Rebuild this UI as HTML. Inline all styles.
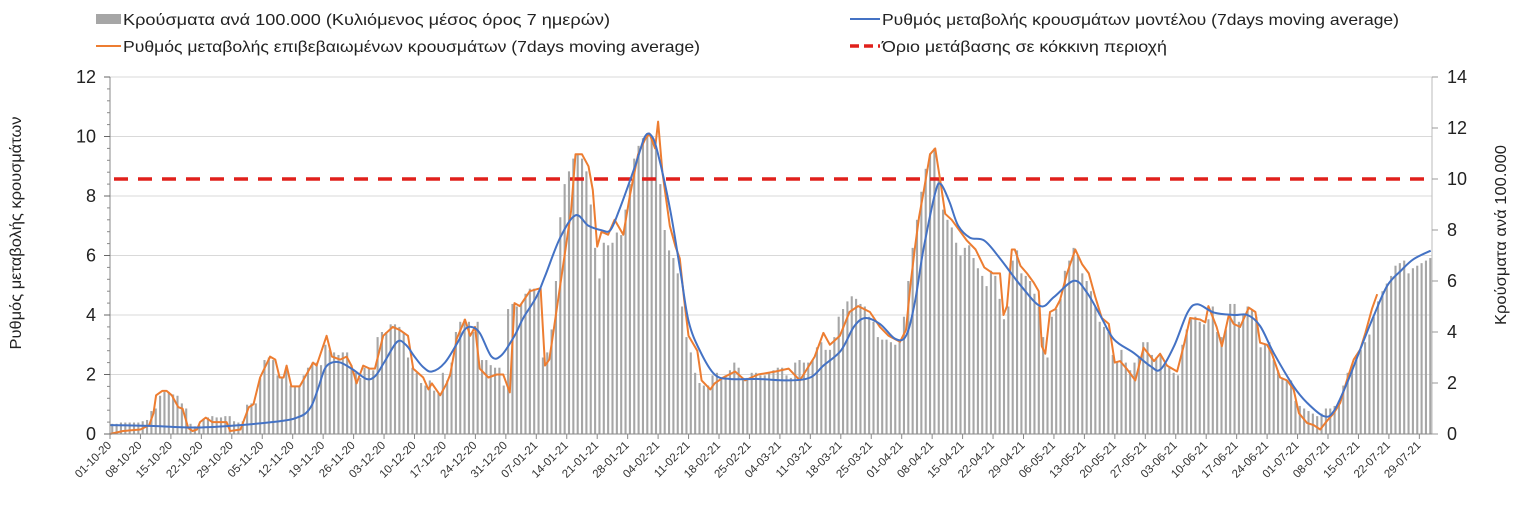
<!DOCTYPE html>
<html><head><meta charset="utf-8">
<style>
html,body{margin:0;padding:0;background:#fff;}
body{width:1538px;height:519px;overflow:hidden;font-family:"Liberation Sans","DejaVu Sans",sans-serif;}
svg text{font-family:"Liberation Sans","DejaVu Sans",sans-serif;}
</style></head>
<body>
<svg id="chart" width="1538" height="519" viewBox="0 0 1538 519" xmlns="http://www.w3.org/2000/svg">
<g id="legend">
  <g>
    <rect x="96" y="14" width="25" height="10" fill="#a6a6a6"/>
    <text x="123" y="25" font-size="16" fill="#222" textLength="487" lengthAdjust="spacingAndGlyphs">Κρούσματα ανά 100.000 (Κυλιόμενος μέσος όρος 7 ημερών)</text>
  </g>
  <g>
    <line x1="850" y1="19" x2="880" y2="19" stroke="#4472c4" stroke-width="2"/>
    <text x="882" y="25" font-size="16" fill="#222" textLength="517" lengthAdjust="spacingAndGlyphs">Ρυθμός μεταβολής κρουσμάτων μοντέλου (7days moving average)</text>
  </g>
  <g>
    <line x1="96" y1="46" x2="121" y2="46" stroke="#ed7d31" stroke-width="2"/>
    <text x="123" y="52" font-size="16" fill="#222" textLength="577" lengthAdjust="spacingAndGlyphs">Ρυθμός μεταβολής επιβεβαιωμένων κρουσμάτων (7days moving average)</text>
  </g>
  <g>
    <line x1="850" y1="46" x2="880" y2="46" stroke="#e0201b" stroke-width="3.5" stroke-dasharray="9,5"/>
    <text x="882" y="52" font-size="16" fill="#222" textLength="285" lengthAdjust="spacingAndGlyphs">Όριο μετάβασης σε κόκκινη περιοχή</text>
  </g>
</g>
<text transform="translate(21,233) rotate(-90)" text-anchor="middle" font-size="16" fill="#222" textLength="233" lengthAdjust="spacingAndGlyphs">Ρυθμός μεταβολής κρουσμάτων</text>
<text transform="translate(1506,235) rotate(-90)" text-anchor="middle" font-size="16" fill="#222" textLength="180" lengthAdjust="spacingAndGlyphs">Κρούσματα ανά 100.000</text>
<g id="grid"></g>
<g id="bars"></g>
<g id="lines"></g>
<g id="axes"></g>
</svg>
<script>
// ---- data ----
const barValues = [
0.4,0.4,0.45,0.45,0.45,0.45,0.45,0.5,0.55,0.9,
1.0,1.5,1.65,1.65,1.55,1.5,1.2,1.0,0.4,0.3,
0.35,0.6,0.65,0.7,0.65,0.65,0.7,0.7,0.5,0.45,
0.5,1.15,1.2,1.2,2.2,2.9,3.0,2.9,2.3,2.2,
2.6,1.9,1.9,1.9,2.3,2.6,2.8,2.8,2.7,3.5,
3.3,3.2,3.1,3.2,3.2,2.7,2.4,2.2,2.6,2.6,
2.5,3.8,4.0,4.0,4.3,4.3,4.2,4.0,3.0,2.6,
2.4,2.0,1.9,2.1,1.7,1.6,2.4,2.1,2.8,4.0,
4.4,4.5,4.4,4.0,4.4,2.9,2.9,2.7,2.6,2.6,
1.9,4.9,5.1,5.0,5.1,5.5,5.7,5.7,5.6,3.0,
3.2,4.1,6.0,8.5,9.8,10.3,10.8,11.0,10.8,10.3,
9.0,7.3,6.1,7.5,7.4,7.5,7.9,7.8,8.8,9.8,
10.8,11.3,11.6,11.8,11.6,11.2,9.8,8.0,7.2,6.9,
6.3,5.0,3.8,3.2,2.4,2.0,1.9,1.9,2.3,2.4,
2.2,2.3,2.5,2.8,2.6,2.2,2.2,2.4,2.4,2.3,
2.3,2.4,2.5,2.6,2.6,2.3,2.2,2.8,2.9,2.8,
2.8,2.9,3.4,3.6,3.3,3.3,3.8,4.6,4.9,5.2,
5.4,5.3,5.1,5.0,4.6,4.4,3.8,3.7,3.7,3.6,
3.5,3.7,4.6,6.0,7.3,8.4,9.5,10.4,11.0,11.2,
10.0,8.8,8.4,8.1,7.5,7.0,7.3,7.4,6.9,6.5,
6.2,5.8,6.4,6.2,5.3,4.5,5.0,6.8,7.2,6.3,
6.2,6.0,5.5,5.0,3.8,3.0,4.6,4.9,5.3,6.4,
6.8,7.3,7.0,6.3,6.0,5.6,5.0,4.4,4.2,4.0,
3.1,2.8,3.3,2.8,2.5,2.8,3.0,3.6,3.6,3.1,
3.0,3.1,2.7,2.6,2.4,2.3,3.5,4.1,4.5,4.6,
4.4,4.3,4.5,5.0,4.0,3.8,4.1,5.1,5.1,4.4,
4.7,5.0,4.9,4.6,3.4,3.5,3.6,2.9,2.5,2.2,
2.1,2.1,1.3,1.1,1.0,0.9,0.8,0.7,0.8,1.0,
1.0,1.1,1.3,1.9,2.4,2.7,3.1,3.3,3.6,3.9,
4.6,5.2,5.6,5.9,6.2,6.6,6.7,6.8,6.3,6.5,
6.6,6.7,6.8,6.9];
const orangeDays = [0,3,7,9,10,10.6,12,13,14.2,15.7,16.7,18,19,20,20.7,22,23.5,26.8,27.6,30,31.9,33,34.5,36.8,38,39,39.9,40.6,41.7,43.6,46.7,47.5,49.8,51,52.9,54.4,55.5,56.7,58.2,59.7,60.9,62.8,65,66.6,68.5,69.7,72,73.2,74,75.9,77.4,78.2,79.7,81.6,82.8,83.9,85,87,88.9,90.4,91.9,93,94.2,96.5,99,100,101,102,104,106,107,108.5,110,111,112,113,114.5,116,118,119.5,121.4,123,124,125.3,126,127,128.7,130,131,132,133,135,136,138,139,141,143.7,146,149,153,156,158.6,162,164,165.5,167.8,170,172,174.7,177,179,181.6,183,184,185,186,187,188.5,189.7,191,192,193.5,195,197,199,201,203,204.6,205.4,206.2,207.3,208,209.3,210.8,212.3,213.5,214.2,215,216.1,217.3,218.4,220,221.9,223.5,225,226.5,228,229.6,231,232.2,233.7,235.7,237.6,240,241.4,243,245.3,246.8,248.3,250.6,251.8,252.5,254.4,255.6,257.2,258.3,259.8,261.8,263.3,264.4,266,267.1,269,270.6,272.1,273.3,275.2,276.7,278.2,279.7,281.3,282.8,284.4,285.9,287.4,288.6,290.1,291.3];
const orangeValues = [0,0.1,0.15,0.3,0.7,1.3,1.45,1.45,1.3,0.9,0.85,0.2,0.1,0.15,0.4,0.55,0.4,0.4,0.1,0.15,0.9,1.0,1.9,2.6,2.5,1.9,1.9,2.3,1.6,1.6,2.4,2.3,3.3,2.6,2.5,2.6,2.3,1.7,2.3,2.2,2.2,3.3,3.6,3.5,3.3,2.2,1.9,1.5,1.7,1.3,1.7,2.0,3.2,3.85,3.3,3.6,2.2,1.9,2.0,2.0,1.4,4.4,4.3,4.8,4.9,2.3,2.5,3.5,5.5,7.5,9.4,9.4,9.0,8.2,6.3,6.8,6.7,7.2,6.7,8.0,9.4,9.9,10.1,9.6,10.5,8.8,7.0,6.3,5.9,4.5,3.3,2.8,1.8,1.5,1.7,1.9,2.1,1.8,2.0,2.1,2.2,1.8,2.6,3.4,3.0,3.3,4.1,4.3,4.1,3.6,3.3,3.1,3.5,5.0,6.2,7.3,8.1,9.4,9.6,8.4,7.4,7.2,6.9,6.5,6.2,5.6,5.4,5.4,4.0,4.3,6.2,6.2,5.65,5.4,5.1,4.8,2.95,2.7,4.1,4.2,4.5,5.4,6.2,5.7,5.4,4.6,3.9,3.7,2.4,2.45,2.2,1.8,2.9,2.45,2.7,2.3,2.1,2.95,3.9,3.85,3.75,4.3,3.6,2.95,4.0,3.7,3.6,4.25,4.1,3.07,3.0,2.7,1.9,1.8,1.5,0.7,0.37,0.3,0.15,0.43,0.7,1.05,1.83,2.5,2.84,3.4,4.2,4.7];
const blueDays = [0,10,20,30,40,43,45,46.5,48,49.4,51,53,56,59,61,63,66,68,70,72,74,77,80,81.5,83,85,87.7,90,93,95,98,100,103.5,107,110,113,115,117,120.7,123,124.6,126,128.7,131,133,135.6,139,142.5,149,156,161,164,168,171,173.6,177,180.5,183,185,187,189.7,191,193,195,197.7,201,204.6,209.3,213.9,217,221.6,224.6,227.7,230.8,235.3,239.2,241.5,244.6,247.7,250,253.8,258.4,261.5,264.4,267.5,272.1,275.2,279,281.3,284.4,287.4,290.5,293.6,296.7,299.7,303.6];
const blueValues = [0.3,0.27,0.22,0.3,0.45,0.55,0.7,1.0,1.6,2.2,2.4,2.4,2.15,1.85,1.95,2.4,3.1,3.0,2.6,2.25,2.1,2.4,3.1,3.5,3.6,3.4,2.6,2.65,3.3,3.9,4.6,5.3,6.6,7.35,7.0,6.85,6.85,7.5,9.0,10.0,10.0,9.4,7.6,5.6,3.8,2.8,2.0,1.85,1.85,1.8,1.9,2.3,2.8,3.6,3.9,3.7,3.2,3.3,4.4,6.2,8.1,8.4,7.8,7.0,6.6,6.5,5.9,5.0,4.3,4.6,5.15,4.75,3.97,3.18,2.73,2.28,2.17,2.95,4.08,4.36,4.08,4.0,4.0,3.63,2.73,1.6,1.05,0.6,0.76,1.72,2.84,3.97,4.98,5.48,5.88,6.16];
const redThreshold = 10; // right axis units
const leftTicks = [0,2,4,6,8,10,12];
const rightTicks = [0,2,4,6,8,10,12,14];

// ---- scales ----
const X0=110, DX=4.35, YB=434, YT=77;
const xs = d => X0 + d*DX;
const yL = v => YB - v*(YB-YT)/12;
const yR = v => YB - v*(YB-YT)/14;
const NS="http://www.w3.org/2000/svg";
function mk(tag, attrs, parent){const e=document.createElementNS(NS,tag);for(const k in attrs)e.setAttribute(k,attrs[k]);parent.appendChild(e);return e;}

const grid=document.getElementById('grid');
leftTicks.forEach(t=>{ if(t>0){
  const g=mk('line',{x1:X0,x2:1432,y1:yL(t),y2:yL(t),stroke:'#d9d9d9','stroke-width':1},grid);
  
  
}});

const bars=document.getElementById('bars');
barValues.forEach((v,i)=>{
  const r=mk('rect',{x:xs(i)+1.2,y:yR(v),width:2.1,height:YB-yR(v),fill:'#a6a6a6'},bars);
  
  
});

const lines=document.getElementById('lines');
const red=mk('line',{x1:X0+4,x2:1430,y1:yR(redThreshold),y2:yR(redThreshold),stroke:'#e0201b','stroke-width':3.5,'stroke-dasharray':'14,10'},lines);



function smoothPath(pts){
  let d='M'+pts[0][0]+','+pts[0][1];
  for(let i=0;i<pts.length-1;i++){
    const p0=pts[Math.max(0,i-1)],p1=pts[i],p2=pts[i+1],p3=pts[Math.min(pts.length-1,i+2)];
    const c1x=p1[0]+(p2[0]-p0[0])/6,c1y=p1[1]+(p2[1]-p0[1])/6;
    const c2x=p2[0]-(p3[0]-p1[0])/6,c2y=p2[1]-(p3[1]-p1[1])/6;
    d+=' C'+c1x.toFixed(1)+','+c1y.toFixed(1)+' '+c2x.toFixed(1)+','+c2y.toFixed(1)+' '+p2[0].toFixed(1)+','+p2[1].toFixed(1);
  }
  return d;
}
const oPts=orangeDays.map((d,i)=>[xs(d),yL(orangeValues[i])]);
const oLine=mk('polyline',{points:oPts.map(p=>p[0].toFixed(1)+','+p[1].toFixed(1)).join(' '),fill:'none',stroke:'#ed7d31','stroke-width':2,'stroke-linejoin':'round'},lines);


const bPts=blueDays.map((d,i)=>[xs(d),yL(blueValues[i])]);
const bLine=mk('path',{d:smoothPath(bPts),fill:'none',stroke:'#4472c4','stroke-width':2},lines);



const axes=document.getElementById('axes');
const la=mk('line',{x1:X0,x2:X0,y1:YT,y2:YB,stroke:'#888','stroke-width':1},axes);


const ra=mk('line',{x1:1432,x2:1432,y1:YT,y2:YB,stroke:'#bbb','stroke-width':1},axes);


const xa=mk('line',{x1:X0,x2:1432,y1:YB,y2:YB,stroke:'#888','stroke-width':1},axes);


for(let v=0;v<=12;v+=0.4){ mk('line',{x1:X0-3,x2:X0,y1:yL(v),y2:yL(v),stroke:'#888','stroke-width':1},axes); }
leftTicks.forEach(t=>{
  mk('line',{x1:X0-6,x2:X0,y1:yL(t),y2:yL(t),stroke:'#666'},axes);
  const tx=mk('text',{x:96,y:yL(t)+6,'text-anchor':'end','font-size':18,fill:'#222'},axes);
  tx.textContent=t;
  
  
});
rightTicks.forEach(t=>{
  mk('line',{x1:1432,x2:1438,y1:yR(t),y2:yR(t),stroke:'#999'},axes);
  const tx=mk('text',{x:1447,y:yR(t)+6,'font-size':18,fill:'#222'},axes);
  tx.textContent=t;
  
  
});
const start=new Date(Date.UTC(2020,9,1));
const pad=n=>(n<10?'0':'')+n;
for(let d=0;d<=301;d+=7){
  const dt=new Date(start.getTime()+d*86400000);
  const lab=pad(dt.getUTCDate())+'-'+pad(dt.getUTCMonth()+1)+'-'+String(dt.getUTCFullYear()).slice(2);
  mk('line',{x1:xs(d),x2:xs(d),y1:YB,y2:YB+5,stroke:'#888'},axes);
  const tx=mk('text',{transform:'translate('+(xs(d)+2)+','+(YB+12)+') rotate(-45)','text-anchor':'end','font-size':11.5,fill:'#333'},axes);
  tx.textContent=lab;
  
  
}
</script>
</body></html>
